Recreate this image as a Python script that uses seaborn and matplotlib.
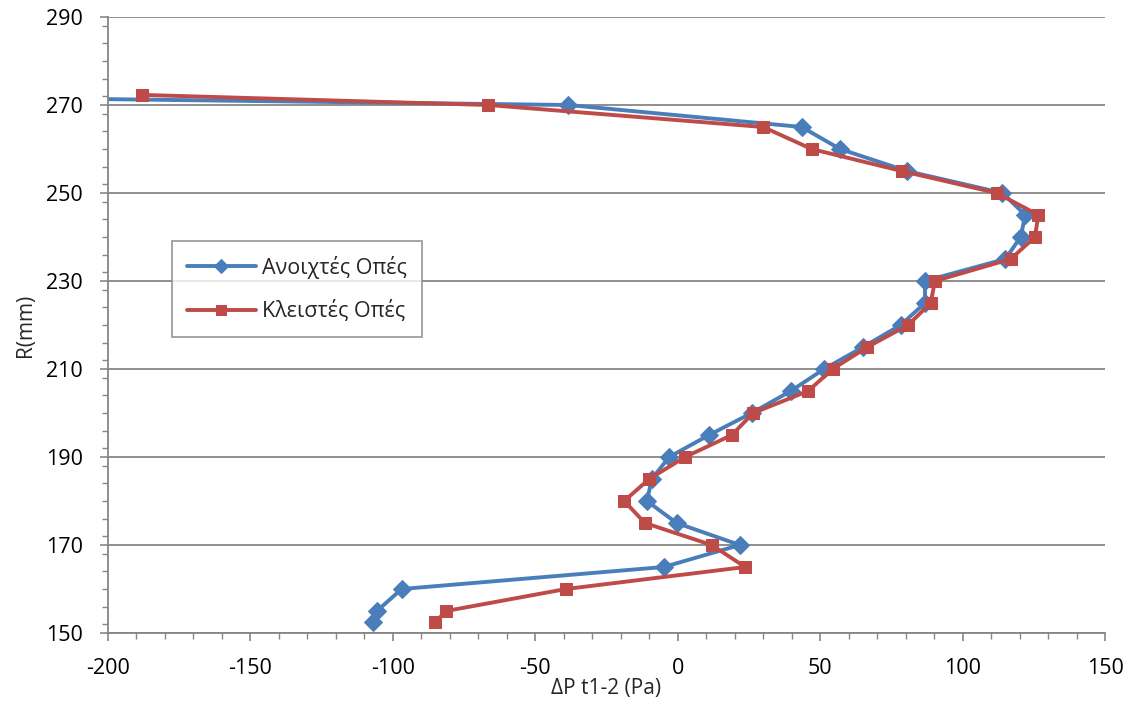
import numpy as np
import pandas as pd
import matplotlib
matplotlib.use("Agg")
import matplotlib.pyplot as plt
import seaborn as sns
from matplotlib.ticker import MultipleLocator

# ---- data ----
r_open = [272.4, 270, 265, 260, 255, 250, 245, 240, 235, 230, 225, 220, 215,
          210, 205, 200, 195, 190, 185, 180, 175, 170, 165, 160, 155, 152.4]
dp_open = [-330, -38.4, 43.5, 57, 80.4, 114, 122, 120.4, 115, 86.8, 86.8, 78.3,
           65.1, 51.4, 39.7, 26, 11, -3, -9.1, -10.8, -0.4, 21.8, -4.9, -96.9,
           -105.6, -106.8]

r_closed = [272.3, 270, 265, 260, 255, 250, 245, 240, 235, 230, 225, 220, 215,
            210, 205, 200, 195, 190, 185, 180, 175, 170, 165, 160, 155, 152.4]
dp_closed = [-188.2, -66.5, 30, 47, 78.6, 112, 126.6, 125.4, 116.9, 90.3, 88.8,
             80.9, 66.6, 54.4, 45.8, 26.5, 19, 2.6, -10, -18.8, -11.5, 11.9,
             23.7, -39.2, -81.3, -85.2]

label_open = "Ανοιχτές Οπές"
label_closed = "Κλειστές Οπές"
x_label = "ΔP t1-2 (Pa)"
y_label = "R(mm)"
x_ticks = [-200, -150, -100, -50, 0, 50, 100, 150]
y_ticks = [150, 170, 190, 210, 230, 250, 270, 290]

sns.set_theme(style="white")
plt.rcParams['font.family'] = ['Open Sans', 'DejaVu Sans']
plt.rcParams['axes.unicode_minus'] = False

fig = plt.figure(figsize=(11.31, 7.13), dpi=100)
ax = fig.add_axes([108/1131, 1-633/713, (1105-108)/1131, (633-17)/713])

df_open = pd.DataFrame({"dp": dp_open, "r": r_open})
df_closed = pd.DataFrame({"dp": dp_closed, "r": r_closed})

blue = "#4A7EBB"
red = "#BE4B48"

sns.lineplot(data=df_open, x="dp", y="r", sort=False, estimator=None, ax=ax,
             color=blue, lw=2.8, marker="D", markersize=9.5,
             markeredgecolor=blue, label=label_open)
sns.lineplot(data=df_closed, x="dp", y="r", sort=False, estimator=None, ax=ax,
             color=red, lw=2.8, marker="s", markersize=8,
             markeredgecolor=red, label=label_closed)

ax.set_xlim(-200, 150)
ax.set_ylim(150, 290)
ax.set_xticks(x_ticks)
ax.set_yticks(y_ticks)
ax.xaxis.set_minor_locator(MultipleLocator(10))
ax.yaxis.set_minor_locator(MultipleLocator(4))

ax.grid(axis="y", which="major", color="#868686", lw=1.3)
ax.set_axisbelow(True)

for s in ["top", "right"]:
    ax.spines[s].set_visible(False)
for s in ["left", "bottom"]:
    ax.spines[s].set_color("#868686")
    ax.spines[s].set_linewidth(1.3)

ax.tick_params(axis="both", which="major", direction="out", length=6,
               width=1.2, color="#868686", labelsize=15.5, labelcolor="black")
ax.tick_params(axis="both", which="minor", direction="out", length=4,
               width=1.0, color="#868686")
ax.tick_params(axis="x", which="major", pad=12)
ax.tick_params(axis="y", which="major", pad=12)
ax.xaxis.set_tick_params(which="both", bottom=True)
ax.yaxis.set_tick_params(which="both", left=True)

ax.set_xlabel(x_label, fontsize=15, labelpad=-1)
ax.set_ylabel(y_label, fontsize=15, labelpad=7)

leg = ax.legend(loc="upper left", bbox_to_anchor=(0.064, 0.637), fontsize=15.5,
                frameon=True, fancybox=False, edgecolor="#868686",
                handlelength=3.2, labelspacing=1.0, borderpad=0.7,
                handletextpad=0.3, borderaxespad=0)
leg.get_frame().set_linewidth(1.3)
for h in leg.legend_handles:
    h.set_markersize(7)

fig.savefig("out.png", dpi=100)
